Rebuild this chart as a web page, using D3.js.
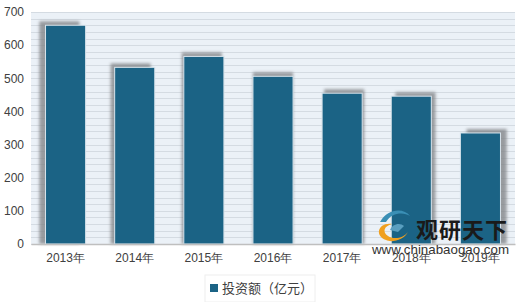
<!DOCTYPE html>
<html>
<head>
<meta charset="utf-8">
<script src="https://cdn.jsdelivr.net/npm/d3@7"></script>
<style>
    body {margin: 0; background: #fff}
    svg {display: block; font-family: "Liberation Sans", "Noto Sans CJK SC", sans-serif}
</style>
</head>
<body>
<svg id="chart" width="520" height="302"></svg>
<script>
const years = ['2013年', '2014年', '2015年', '2016年', '2017年', '2018年', '2019年']
const investment = [660, 533, 566, 506, 455, 446, 335]
const yTicks = [0, 100, 200, 300, 400, 500, 600, 700]
const seriesName = '投资额（亿元）'

const plot = {left: 31, right: 515, top: 12, bottom: 244}

const svg = d3.select('#chart')

const x = d3.scaleBand()
    .domain(years)
    .range([plot.left, plot.right])
    .paddingInner(0.42)
    .paddingOuter(0.21)

const y = d3.scaleLinear()
    .domain([0, 700])
    .range([plot.bottom, plot.top])

const defs = svg.append('defs')
defs.append('filter')
    .attr('id', 'blur')
    .attr('x', '-30%').attr('y', '-30%')
    .attr('width', '160%').attr('height', '160%')
    .append('feGaussianBlur')
    .attr('stdDeviation', 1.6)

// striped plot background
svg.append('rect')
    .attr('x', plot.left)
    .attr('y', y(700))
    .attr('width', plot.right - plot.left)
    .attr('height', y(0) - y(700))
    .attr('fill', '#ebf1f7')

svg.append('g')
    .selectAll('line')
    .data(d3.range(0, 701, 20))
    .join('line')
    .attr('x1', plot.left)
    .attr('x2', plot.right)
    .attr('y1', d => Math.round(y(d)) + 0.5)
    .attr('y2', d => Math.round(y(d)) + 0.5)
    .attr('stroke', '#d4dbe2')
    .attr('stroke-width', 1)

// bar shadows, pushed away from the chart centre
const midX = (plot.left + plot.right) / 2
const shadowDx = d => (x(d) + x.bandwidth() / 2 - midX) * 0.03

svg.append('g')
    .selectAll('rect')
    .data(years)
    .join('rect')
    .attr('x', d => x(d) + shadowDx(d))
    .attr('y', (d, i) => y(investment[i]) - 4)
    .attr('width', x.bandwidth())
    .attr('height', (d, i) => y(0) - y(investment[i]) + 4)
    .attr('fill', '#7d7f82')
    .attr('opacity', 0.75)
    .attr('filter', 'url(#blur)')

svg.append('g')
    .selectAll('rect')
    .data(years)
    .join('rect')
    .attr('x', d => x(d))
    .attr('y', (d, i) => y(investment[i]))
    .attr('width', x.bandwidth())
    .attr('height', (d, i) => y(0) - y(investment[i]))
    .attr('fill', '#1b6385')
    .attr('stroke', '#d8e4ec')
    .attr('stroke-width', 1)

// axes
const yAxis = svg.append('g')
    .attr('transform', `translate(${plot.left},0)`)
    .call(d3.axisLeft(y).tickValues(yTicks).tickSize(0).tickPadding(7))
yAxis.select('.domain').remove()
yAxis.selectAll('text')
    .attr('font-size', 12)
    .attr('fill', '#404040')

const xAxis = svg.append('g')
    .attr('transform', `translate(0,${plot.bottom})`)
    .call(d3.axisBottom(x).tickSize(0).tickPadding(9))
xAxis.select('.domain')
    .attr('stroke', '#bfbfbf')
    .attr('stroke-width', 1.5)
xAxis.selectAll('text')
    .attr('font-size', 12)
    .attr('fill', '#404040')

// watermark
const wm = svg.append('g')
wm.append('path')
    .attr('d', 'M392,224 C378,222 374,236 386,240 C392,243 404,240 408,232 C404,238 394,240 388,236 C382,232 384,226 392,224 Z')
    .attr('fill', '#f0a020')
wm.append('path')
    .attr('d', 'M380,222 C388,208 404,208 410,216 C404,212 392,212 386,222 Z')
    .attr('fill', '#3a8fb5')
wm.append('path')
    .attr('d', 'M390,230 C392,224 400,222 404,226 L398,232 Z')
    .attr('fill', '#5a9fc0')
wm.append('text')
    .attr('x', 416)
    .attr('y', 238)
    .attr('font-size', 22)
    .attr('font-weight', 'bold')
    .attr('fill', '#1a1a1a')
    .attr('font-family', '"Noto Sans CJK SC", sans-serif')
    .attr('letter-spacing', 1)
    .text('观研天下')
wm.append('text')
    .attr('x', 372)
    .attr('y', 254)
    .attr('font-size', 13)
    .attr('fill', '#333')
    .attr('textLength', 137)
    .attr('lengthAdjust', 'spacingAndGlyphs')
    .text('www.chinabaogao.com')

// legend
const legend = svg.append('g')
    .attr('transform', 'translate(205,275)')
legend.append('rect')
    .attr('width', 110)
    .attr('height', 27)
    .attr('fill', '#fff')
    .attr('stroke', '#eeeeee')
legend.append('rect')
    .attr('x', 5)
    .attr('y', 9)
    .attr('width', 8)
    .attr('height', 8)
    .attr('fill', '#1b6385')
legend.append('text')
    .attr('x', 17)
    .attr('y', 18)
    .attr('font-size', 13)
    .attr('fill', '#404040')
    .attr('font-family', '"Noto Sans CJK SC", sans-serif')
    .text(seriesName)
</script>
</body>
</html>
